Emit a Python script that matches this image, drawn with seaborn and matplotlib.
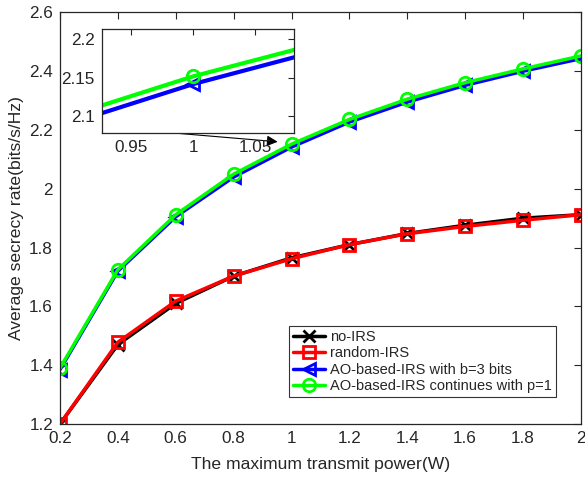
import numpy as np
import pandas as pd
import matplotlib
matplotlib.use("Agg")
import matplotlib.pyplot as plt
import seaborn as sns
from matplotlib.ticker import FuncFormatter

power = [0.2, 0.4, 0.6, 0.8, 1.0, 1.2, 1.4, 1.6, 1.8, 2.0]
no_irs = [1.200, 1.470, 1.610, 1.703, 1.765, 1.810, 1.848, 1.876, 1.900, 1.912]
random_irs = [1.200, 1.478, 1.618, 1.703, 1.762, 1.810, 1.847, 1.872, 1.893, 1.912]
ao_3bits = [1.385, 1.720, 1.905, 2.040, 2.142, 2.227, 2.295, 2.352, 2.400, 2.443]
ao_cont = [1.390, 1.725, 1.912, 2.050, 2.152, 2.236, 2.305, 2.361, 2.408, 2.452]

labels = ["no-IRS", "random-IRS", "AO-based-IRS with b=3 bits",
          "AO-based-IRS continues with p=1"]
series = [no_irs, random_irs, ao_3bits, ao_cont]
colors = ["#000000", "#ff0000", "#0000ff", "#00ff00"]
markers = ["x", "s", "<", "o"]

sns.set_style("white")
plt.rcParams['font.family'] = ['Liberation Sans', 'DejaVu Sans']
axcol = "#262626"

fig = plt.figure(figsize=(5.85, 4.79), dpi=100)
ax = fig.add_axes([0.1026, 0.115, 0.8904, 0.859])

def draw(a, ms, mew, lw, legend=True):
    for lab, vals, c, m in zip(labels, series, colors, markers):
        df = pd.DataFrame({"x": power, "y": vals})
        sns.lineplot(data=df, x="x", y="y", ax=a, color=c, marker=m, markersize=ms,
                     markerfacecolor="none", markeredgecolor=c, markeredgewidth=mew,
                     linewidth=lw, label=lab if legend else None, legend=False)

draw(ax, 9, 2.0, 2.5)
ax.set_xlim(0.2, 2.0)
ax.set_ylim(1.2, 2.6)
ax.set_xticks(power)
ax.set_yticks([1.2, 1.4, 1.6, 1.8, 2.0, 2.2, 2.4, 2.6])
fmt = FuncFormatter(lambda v, p: f"{v:g}")
ax.xaxis.set_major_formatter(fmt)
ax.yaxis.set_major_formatter(fmt)
ax.set_xlabel("The maximum transmit power(W)", fontsize=12.6, color=axcol, labelpad=8)
ax.set_ylabel("Average secrecy rate(bits/s/Hz)", fontsize=12.6, color=axcol, labelpad=4)
ax.tick_params(direction="in", top=True, right=True, length=5, width=0.8,
               labelsize=12.3, colors=axcol, pad=5)
for s in ax.spines.values():
    s.set_color(axcol)
    s.set_linewidth(0.9)

leg = ax.legend(loc="lower right", bbox_to_anchor=(0.952, 0.065), fontsize=10.5,
                frameon=True, fancybox=False, edgecolor="#000000", handlelength=2.2,
                borderpad=0.3, labelspacing=0.15, handletextpad=0.3, borderaxespad=0)
leg.get_frame().set_linewidth(0.8)

ax.annotate("", xy=(0.952, 2.160), xytext=(0.579, 2.191),
            arrowprops=dict(arrowstyle="-|>", color="black", lw=0.8,
                            mutation_scale=16, shrinkA=0, shrinkB=0))

ins = fig.add_axes([0.174, 0.723, 0.329, 0.216])
draw(ins, 9, 2.0, 3.0, legend=False)
ins.set_xlim(0.926, 1.0816)
ins.set_ylim(2.079, 2.213)
ins.set_xticks([0.95, 1.0, 1.05])
ins.set_yticks([2.1, 2.15, 2.2])
ins.xaxis.set_major_formatter(fmt)
ins.yaxis.set_major_formatter(fmt)
ins.set_xlabel("")
ins.set_ylabel("")
ins.tick_params(direction="in", top=True, right=True, length=4, width=0.8,
                labelsize=12.3, colors=axcol, pad=5)
for s in ins.spines.values():
    s.set_color(axcol)
    s.set_linewidth(0.9)
ins.set_facecolor("white")

fig.savefig("out.png", dpi=100)
